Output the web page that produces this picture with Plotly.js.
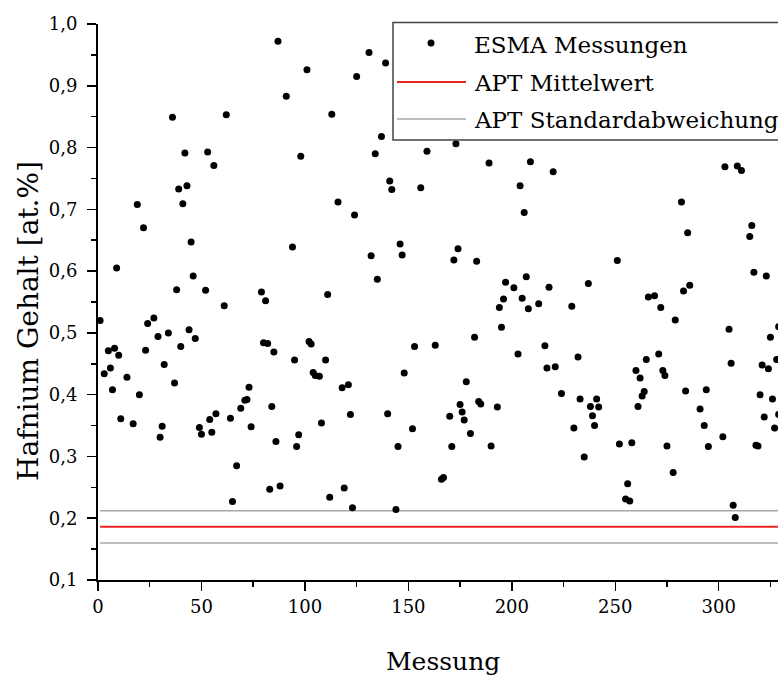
<!DOCTYPE html>
<html>
<head>
<meta charset="utf-8">
<script src="https://cdn.plot.ly/plotly-3.0.1.min.js"></script>
<style>
  html, body { margin: 0; padding: 0; background: #ffffff; }
  #chart { width: 778px; height: 679px; }
</style>
</head>
<body>
<div id="chart"></div>
<script>
// Hafnium-Gehalt der einzelnen ESMA-Messungen
const messung = [
  1, 3, 5, 6, 7, 8, 9, 10, 11, 14, 17, 19, 20, 22, 23, 24, 27, 29, 30, 31,
  32, 34, 36, 37, 38, 39, 40, 41, 42, 43, 44, 45, 46, 47, 49, 50, 52, 53, 54, 55,
  56, 57, 61, 62, 64, 65, 67, 69, 71, 72, 73, 74, 79, 80, 81, 82, 83, 84, 85, 86,
  87, 88, 91, 94, 95, 96, 97, 98, 101, 102, 103, 104, 105, 107, 108, 110, 111, 112, 113, 116,
  118, 119, 121, 122, 123, 124, 125, 131, 132, 134, 135, 137, 139, 140, 141, 142, 144, 145, 146, 147,
  148, 152, 153, 156, 159, 163, 166, 167, 170, 171, 172, 173, 174, 175, 176, 177, 178, 180, 182, 183,
  184, 185, 189, 190, 193, 194, 195, 196, 197, 201, 203, 204, 205, 206, 207, 208, 209, 213, 216, 217,
  218, 220, 221, 224, 229, 230, 232, 233, 235, 237, 238, 239, 240, 241, 242, 251, 252, 255, 256, 257,
  258, 260, 261, 262, 263, 264, 265, 266, 269, 271, 272, 273, 274, 275, 278, 279, 282, 283, 284, 285,
  286, 291, 293, 294, 295, 302, 303, 305, 306, 307, 308, 309, 311, 315, 316, 317, 318, 319, 320, 321,
  322, 323, 324, 325, 326, 327, 328, 329, 329
];
const hafnium = [
  0.520, 0.434, 0.471, 0.443, 0.408, 0.475, 0.605, 0.464, 0.361, 0.428, 0.353, 0.708, 0.400, 0.670, 0.472, 0.515, 0.524, 0.494, 0.331, 0.349,
  0.449, 0.500, 0.849, 0.419, 0.570, 0.733, 0.478, 0.709, 0.791, 0.738, 0.505, 0.647, 0.592, 0.491, 0.347, 0.336, 0.569, 0.793, 0.360, 0.339,
  0.771, 0.369, 0.544, 0.853, 0.362, 0.227, 0.285, 0.378, 0.391, 0.392, 0.412, 0.348, 0.566, 0.484, 0.552, 0.483, 0.247, 0.381, 0.469, 0.324,
  0.972, 0.252, 0.883, 0.639, 0.456, 0.316, 0.335, 0.786, 0.926, 0.486, 0.482, 0.436, 0.431, 0.430, 0.354, 0.456, 0.562, 0.234, 0.854, 0.712,
  0.411, 0.249, 0.416, 0.368, 0.217, 0.691, 0.915, 0.954, 0.625, 0.790, 0.587, 0.818, 0.937, 0.369, 0.746, 0.732, 0.214, 0.316, 0.644, 0.626,
  0.435, 0.345, 0.478, 0.735, 0.794, 0.480, 0.263, 0.266, 0.365, 0.316, 0.618, 0.806, 0.636, 0.384, 0.372, 0.359, 0.421, 0.337, 0.493, 0.616,
  0.389, 0.385, 0.775, 0.317, 0.380, 0.541, 0.509, 0.555, 0.582, 0.573, 0.466, 0.738, 0.556, 0.695, 0.591, 0.539, 0.777, 0.547, 0.479, 0.443,
  0.574, 0.761, 0.445, 0.402, 0.543, 0.346, 0.461, 0.393, 0.299, 0.580, 0.381, 0.366, 0.350, 0.393, 0.380, 0.617, 0.320, 0.231, 0.256, 0.228,
  0.322, 0.439, 0.381, 0.427, 0.398, 0.405, 0.457, 0.558, 0.560, 0.466, 0.541, 0.439, 0.431, 0.317, 0.274, 0.521, 0.712, 0.568, 0.406, 0.662,
  0.577, 0.377, 0.350, 0.408, 0.316, 0.332, 0.769, 0.506, 0.451, 0.221, 0.201, 0.770, 0.763, 0.656, 0.674, 0.598, 0.318, 0.317, 0.400, 0.448,
  0.364, 0.592, 0.442, 0.493, 0.393, 0.346, 0.457, 0.368, 0.510
];

// APT-Referenz: Mittelwert und Standardabweichungsband
const aptSpanne = [1, 340];
const aptMittelwert = 0.186;
const aptStdGrenzen = [0.212, 0.160];

// Achsenbeschriftung
const xTickVals = [0, 50, 100, 150, 200, 250, 300];
const xTickText = ['0', '50', '100', '150', '200', '250', '300'];
const xMinorVals = [25, 75, 125, 175, 225, 275, 325];
const yTickVals = [0.1, 0.2, 0.3, 0.4, 0.5, 0.6, 0.7, 0.8, 0.9, 1.0];
const yTickText = ['0,1', '0,2', '0,3', '0,4', '0,5', '0,6', '0,7', '0,8', '0,9', '1,0'];
const yMinorVals = [0.15, 0.25, 0.35, 0.45, 0.55, 0.65, 0.75, 0.85, 0.95];

const xTitel = 'Messung';
const yTitel = 'Hafnium Gehalt [at.%]';
const legendeTexte = ['ESMA Messungen', 'APT Mittelwert', 'APT Standardabweichung'];

const FONT = 'DejaVu Serif';
const W = 778, H = 679;
const M = { l: 98, r: 0, t: 24, b: 99 };
const plotW = W - M.l - M.r, plotH = H - M.t - M.b;
// pixel position -> paper coordinates
const px = v => (v - M.l) / plotW;
const py = v => (H - M.b - v) / plotH;

const red = '#ee2424';
const grey = '#a8a8a8';

const traces = [
  {
    x: aptSpanne, y: aptSpanne.map(() => aptStdGrenzen[0]),
    mode: 'lines', line: { color: grey, width: 1.6 }, hoverinfo: 'skip'
  },
  {
    x: aptSpanne, y: aptSpanne.map(() => aptStdGrenzen[1]),
    mode: 'lines', line: { color: grey, width: 1.6 }, hoverinfo: 'skip'
  },
  {
    x: aptSpanne, y: aptSpanne.map(() => aptMittelwert),
    mode: 'lines', line: { color: red, width: 2 }, hoverinfo: 'skip'
  },
  {
    x: messung, y: hafnium,
    mode: 'markers', marker: { color: '#000000', size: 7 }
  }
];

const axisCommon = {
  showgrid: false, zeroline: false, showline: true,
  linecolor: '#000000', linewidth: 2,
  ticks: 'outside', ticklen: 9, tickwidth: 1.5, tickcolor: '#000000',
  tickfont: { family: FONT, size: 18, color: '#000000' },
  fixedrange: true
};

const layout = {
  width: W, height: H,
  margin: { l: M.l, r: M.r, t: M.t, b: M.b, pad: 0 },
  paper_bgcolor: '#ffffff', plot_bgcolor: '#ffffff',
  showlegend: false,
  xaxis: Object.assign({}, axisCommon, {
    range: [0, plotW / 2.069],
    tickmode: 'array', tickvals: xTickVals, ticktext: xTickText,
    minor: { tickmode: 'array', tickvals: xMinorVals, ticks: 'outside', ticklen: 5, tickwidth: 1.5, tickcolor: '#000000' }
  }),
  yaxis: Object.assign({}, axisCommon, {
    range: [0.1, 1.0],
    tickmode: 'array', tickvals: yTickVals, ticktext: yTickText,
    minor: { tickmode: 'array', tickvals: yMinorVals, ticks: 'outside', ticklen: 5, tickwidth: 1.5, tickcolor: '#000000' },
    ticklabelstandoff: 6
  }),
  shapes: [
    // Legendenrahmen
    { type: 'rect', xref: 'paper', yref: 'paper', layer: 'above',
      x0: px(393), x1: px(800), y0: py(140), y1: py(22.5),
      line: { color: '#444444', width: 1.5 }, fillcolor: '#ffffff' },
    { type: 'circle', xref: 'paper', yref: 'paper', layer: 'above',
      x0: px(427.5), x1: px(434.5), y0: py(46.5), y1: py(39.5),
      line: { color: '#000000', width: 0 }, fillcolor: '#000000' },
    { type: 'line', xref: 'paper', yref: 'paper', layer: 'above',
      x0: px(397), x1: px(466), y0: py(82), y1: py(82),
      line: { color: red, width: 2 } },
    { type: 'line', xref: 'paper', yref: 'paper', layer: 'above',
      x0: px(397), x1: px(466), y0: py(119), y1: py(119),
      line: { color: grey, width: 1.6 } }
  ],
  annotations: [
    { text: yTitel, xref: 'paper', yref: 'paper',
      x: px(28), y: py(321), xanchor: 'center', yanchor: 'middle',
      textangle: -90, showarrow: false,
      font: { family: FONT, size: 28, color: '#000000' } },
    { text: xTitel, xref: 'paper', yref: 'paper',
      x: px(443), y: py(661), xanchor: 'center', yanchor: 'middle',
      showarrow: false,
      font: { family: FONT, size: 25, color: '#000000' } }
  ].concat(legendeTexte.map((t, i) => ({
      text: t, xref: 'paper', yref: 'paper',
      x: px(472), y: py([45, 83, 120][i]), xanchor: 'left', yanchor: 'middle',
      showarrow: false, font: { family: FONT, size: 23, color: '#000000' }
  })))
};

Plotly.newPlot('chart', traces, layout, { displayModeBar: false, staticPlot: true });
</script>
</body>
</html>
